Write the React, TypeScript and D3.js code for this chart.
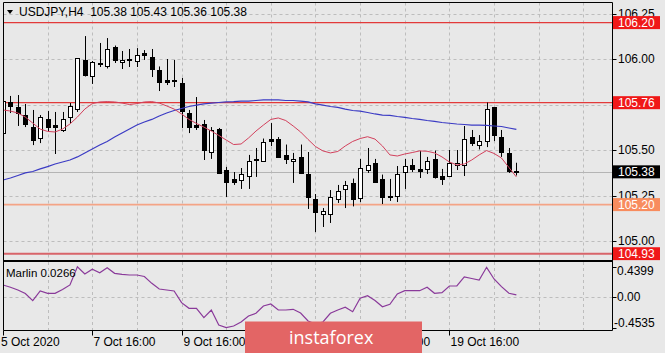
import * as d3 from 'd3';

const SYMBOL_TITLE = 'USDJPY,H4  105.38 105.43 105.36 105.38';
const MARLIN_TITLE = 'Marlin 0.0266';
const LAST_PRICE = 105.38;

const opens = [
  105.593, 105.764, 105.734, 105.692, 105.626, 105.566, 105.67, 105.64, 105.61, 105.681,
  105.725, 105.995, 105.907, 105.978, 105.962, 106.066, 105.984, 106.0, 105.989, 106.033,
  106.011, 105.937, 105.885, 105.885, 105.868, 105.703, 105.637, 105.643, 105.489, 105.618,
  105.39, 105.338, 105.335, 105.357, 105.445, 105.44, 105.558, 105.563, 105.473, 105.44,
  105.462, 105.368, 105.231, 105.148, 105.148, 105.231, 105.286, 105.319, 105.236, 105.39,
  105.429, 105.338, 105.247, 105.245, 105.379, 105.418, 105.393, 105.398, 105.448, 105.357,
  105.357, 105.42, 105.418, 105.571, 105.53, 105.552, 105.734, 105.574, 105.484, 105.383,
];
const highs = [
  105.808, 105.797, 105.802, 105.753, 105.72, 105.692, 105.714, 105.709, 105.709, 105.758,
  106.005, 106.126, 105.989, 106.088, 106.115, 106.074, 106.044, 106.055, 106.06, 106.049,
  106.055, 105.959, 106.0, 105.995, 105.896, 105.72, 105.791, 105.665, 105.626, 105.621,
  105.407, 105.379, 105.401, 105.473, 105.511, 105.563, 105.648, 105.571, 105.53, 105.484,
  105.53, 105.489, 105.258, 105.181, 105.28, 105.308, 105.33, 105.343, 105.451, 105.511,
  105.451, 105.365, 105.341, 105.412, 105.451, 105.451, 105.495, 105.462, 105.497, 105.396,
  105.5, 105.5, 105.632, 105.61, 105.582, 105.761, 105.736, 105.61, 105.511, 105.43,
];
const lows = [
  105.555, 105.703, 105.632, 105.626, 105.527, 105.538, 105.604, 105.478, 105.599, 105.648,
  105.709, 105.904, 105.863, 105.956, 105.948, 105.978, 105.945, 105.956, 105.956, 105.995,
  105.901, 105.824, 105.857, 105.846, 105.621, 105.593, 105.61, 105.445, 105.451, 105.368,
  105.242, 105.308, 105.286, 105.286, 105.352, 105.434, 105.522, 105.456, 105.423, 105.319,
  105.368, 105.176, 105.049, 105.077, 105.099, 105.209, 105.181, 105.19, 105.214, 105.374,
  105.319, 105.203, 105.22, 105.214, 105.286, 105.379, 105.346, 105.368, 105.343, 105.308,
  105.354, 105.39, 105.357, 105.522, 105.503, 105.516, 105.549, 105.462, 105.374, 105.36,
];
const closes = [
  105.77, 105.742, 105.703, 105.643, 105.555, 105.681, 105.626, 105.626, 105.67, 105.742,
  106.003, 105.912, 105.984, 105.973, 106.055, 105.995, 105.995, 105.997, 106.022, 106.022,
  105.945, 105.874, 105.876, 105.879, 105.714, 105.626, 105.626, 105.5, 105.61, 105.376,
  105.324, 105.324, 105.368, 105.44, 105.448, 105.544, 105.552, 105.462, 105.448, 105.451,
  105.374, 105.242, 105.159, 105.165, 105.242, 105.275, 105.305, 105.231, 105.401, 105.418,
  105.324, 105.242, 105.242, 105.368, 105.412, 105.398, 105.387, 105.44, 105.349, 105.343,
  105.426, 105.429, 105.563, 105.536, 105.547, 105.723, 105.582, 105.489, 105.387, 105.38,
];

// fast moving average (red) and slow moving average (blue), read per bar
const fastMa = [
  105.72, 105.714, 105.703, 105.681, 105.648, 105.615, 105.602, 105.599, 105.615, 105.643,
  105.681, 105.725, 105.755, 105.764, 105.766, 105.764, 105.758, 105.75, 105.755, 105.764,
  105.766, 105.758, 105.742, 105.725, 105.698, 105.668, 105.646, 105.626, 105.604, 105.58,
  105.555, 105.53, 105.533, 105.566, 105.604, 105.637, 105.668, 105.676, 105.662, 105.632,
  105.599, 105.558, 105.519, 105.495, 105.484, 105.492, 105.522, 105.547, 105.563, 105.573,
  105.56, 105.522, 105.473, 105.467, 105.478, 105.486, 105.495, 105.493, 105.484, 105.462,
  105.434, 105.418, 105.423, 105.445, 105.473, 105.497, 105.481, 105.456, 105.404, 105.352,
];
const slowMa = [
  105.335, 105.346, 105.36, 105.374, 105.382, 105.396, 105.409, 105.423, 105.434, 105.445,
  105.462, 105.484, 105.505, 105.527, 105.547, 105.571, 105.593, 105.615, 105.637, 105.654,
  105.668, 105.687, 105.703, 105.717, 105.728, 105.739, 105.747, 105.753, 105.758, 105.761,
  105.764, 105.766, 105.769, 105.769, 105.772, 105.775, 105.775, 105.775, 105.772, 105.772,
  105.769, 105.764, 105.753, 105.747, 105.739, 105.734, 105.725, 105.717, 105.714, 105.706,
  105.698, 105.692, 105.69, 105.684, 105.679, 105.673, 105.668, 105.662, 105.657, 105.651,
  105.647, 105.643, 105.64, 105.637, 105.637, 105.635, 105.632, 105.629, 105.621, 105.613,
];

const marlin = [
  0.172, 0.138, 0.098, 0.047, -0.059, 0.084, 0.05, 0.05, 0.106, 0.172,
  0.4399, 0.333, 0.402, 0.352, 0.425, 0.343, 0.328, 0.318, 0.318, 0.296,
  0.196, 0.113, 0.098, 0.084, -0.088, -0.17, -0.17, -0.308, -0.195, -0.415,
  -0.4535, -0.43, -0.371, -0.283, -0.243, -0.136, -0.107, -0.195, -0.195, -0.185,
  -0.239, -0.356, -0.4, -0.371, -0.243, -0.195, -0.155, -0.22, -0.023, 0.015,
  -0.056, -0.147, -0.111, 0.04, 0.088, 0.088, 0.088, 0.138, 0.05, 0.059,
  0.157, 0.157, 0.289, 0.267, 0.245, 0.431, 0.26, 0.147, 0.05, 0.0266,
];

const priceTicks = [106.25, 106.0, 105.75, 105.5, 105.25, 105.0];
const marlinTicks = [0.4399, 0, -0.4535];
const marlinTickLabels = ['0.4399', '0.00', '-0.4535'];

const timeTickBars = [0, 12, 24, 36, 48, 60];
const timeTickLabels = ['5 Oct 2020', '7 Oct 16:00', '9 Oct 16:00', '13 Oct 16:00', '15 Oct 16:00', '19 Oct 16:00'];

const resistanceHigh = 106.2;
const resistanceMid = 105.76;
const supportLevel = 105.2;
const supportLow = 104.93;

const W = 665;
const H = 353;
const LEFT = 3.5;
const RIGHT = 612.5;
const MAIN_TOP = 2.5;
const MAIN_BOTTOM = 261;
const SUB_TOP = 262;
const SUB_BOTTOM = 330.5;
const BG = '#e8e8e8';
const FONT = '"Liberation Sans", Arial, sans-serif';
const MARK = { x: 245, y: 321.5, w: 177, h: 33 };

export default function App() {
  const n = closes.length;
  const x = d3.scaleLinear().domain([0, n - 1]).range([3, 3 + (n - 1) * 7.44]);
  const y = d3.scaleLinear().domain([105, 106]).range([241, 59]);
  const ySub = d3.scaleLinear().domain([-0.4535, 0.4399]).range([327.6, 266.7]);

  const px = (i: number) => Math.round(x(i)) + 0.5;
  const gridBars = d3.range(6, 84, 6).filter((i) => x(i) < RIGHT - 2);

  const lineMain = (vals: number[]) =>
    d3.line<number>().x((_, i) => x(i)).y((d) => y(d))(vals) ?? '';
  const lineSub = d3.line<number>().x((_, i) => x(i)).y((d) => ySub(d))(marlin) ?? '';

  const levels = [resistanceHigh, resistanceMid, LAST_PRICE, supportLevel, supportLow];
  // a tick label that sits fully under a level label is not shown
  const visibleTicks = priceTicks.filter((p) => !levels.some((l) => Math.abs(y(p) - y(l)) < 4));
  // a time label fully covered by the watermark is not shown
  const visibleTimes = timeTickBars
    .map((b, k) => ({ b, k }))
    .filter(({ b }) => !(px(b) > MARK.x && px(b) + 66 < MARK.x + MARK.w));

  const levelLabel = (v: number, fill: string, text = v.toFixed(2)) => {
    const cy = y(v);
    return (
      <g key={`lbl-${v}`}>
        <rect x={613} y={cy - 6.5} width={47} height={13} fill={fill} />
        <text x={618} y={cy + 4.3} fontSize={12} fill="#ffffff" fontFamily={FONT}>
          {text}
        </text>
      </g>
    );
  };

  return (
    <svg width={W} height={H} style={{ position: 'absolute', left: 0, top: 0 }}>
      <defs>
        <clipPath id="mainClip">
          <rect x={LEFT} y={MAIN_TOP} width={RIGHT - LEFT} height={MAIN_BOTTOM - MAIN_TOP - 1} />
        </clipPath>
        <clipPath id="subClip">
          <rect x={LEFT} y={SUB_TOP} width={RIGHT - LEFT} height={SUB_BOTTOM - SUB_TOP} />
        </clipPath>
        <clipPath id="axisClip">
          <rect x={RIGHT} y={0} width={W - RIGHT} height={MAIN_BOTTOM - 0.5} />
        </clipPath>
      </defs>
      <rect width={W} height={H} fill={BG} />

      {/* grid */}
      <g stroke="#bdbdbd" strokeDasharray="3,3" strokeWidth={1}>
        {gridBars.map((i) => (
          <line key={`vg${i}`} x1={px(i)} x2={px(i)} y1={MAIN_TOP} y2={MAIN_BOTTOM} />
        ))}
        {gridBars.map((i) => (
          <line key={`vs${i}`} x1={px(i)} x2={px(i)} y1={SUB_TOP} y2={SUB_BOTTOM} />
        ))}
        {priceTicks.map((p) => (
          <line key={`hg${p}`} x1={LEFT} x2={RIGHT} y1={Math.round(y(p)) + 0.5} y2={Math.round(y(p)) + 0.5} />
        ))}
        <line x1={LEFT} x2={RIGHT} y1={Math.round(ySub(0)) + 0.5} y2={Math.round(ySub(0)) + 0.5} />
      </g>

      <g clipPath="url(#mainClip)">
        {/* bid line */}
        <line x1={LEFT} x2={RIGHT} y1={Math.round(y(LAST_PRICE)) + 0.5} y2={Math.round(y(LAST_PRICE)) + 0.5} stroke="#b4b4b4" />
        {/* horizontal levels */}
        <line x1={LEFT} x2={RIGHT} y1={y(resistanceHigh)} y2={y(resistanceHigh)} stroke="#e23a3a" strokeWidth={1.2} />
        <line x1={LEFT} x2={RIGHT} y1={y(resistanceMid)} y2={y(resistanceMid)} stroke="#e23a3a" strokeWidth={1.2} />
        <line x1={LEFT} x2={RIGHT} y1={y(supportLevel)} y2={y(supportLevel)} stroke="#f4a486" strokeWidth={1.6} />
        <line x1={LEFT} x2={RIGHT} y1={y(supportLow)} y2={y(supportLow)} stroke="#d8646a" strokeWidth={2} />

        {/* candles */}
        {closes.map((c, i) => {
          const o = opens[i];
          const cx = px(i);
          const top = Math.round(y(Math.max(o, c)));
          const bot = Math.round(y(Math.min(o, c)));
          const bull = c >= o;
          return (
            <g key={`c${i}`}>
              <line x1={cx} x2={cx} y1={y(highs[i])} y2={y(lows[i])} stroke="#000" strokeWidth={1} />
              <rect
                x={cx - 2}
                y={top + 0.5}
                width={4}
                height={Math.max(1, bot - top)}
                fill={bull ? '#ffffff' : '#000000'}
                stroke="#000"
                strokeWidth={1}
              />
            </g>
          );
        })}

        <path d={lineMain(slowMa)} fill="none" stroke="#3b3bc4" strokeWidth={1.2} />
        <path d={lineMain(fastMa)} fill="none" stroke="#d2405c" strokeWidth={1} />
      </g>

      {/* marlin */}
      <g clipPath="url(#subClip)">
        <path d={lineSub} fill="none" stroke="#8a3a9a" strokeWidth={1.2} />
      </g>

      {/* frames */}
      <g stroke="#000" fill="none">
        <line x1={LEFT} x2={LEFT} y1={MAIN_TOP} y2={SUB_BOTTOM} />
        <line x1={RIGHT} x2={RIGHT} y1={MAIN_TOP} y2={SUB_BOTTOM} />
        <line x1={LEFT} x2={RIGHT} y1={MAIN_TOP} y2={MAIN_TOP} />
        <line x1={LEFT} x2={RIGHT} y1={MAIN_BOTTOM} y2={MAIN_BOTTOM} strokeWidth={2} />
        <line x1={LEFT} x2={RIGHT} y1={SUB_BOTTOM} y2={SUB_BOTTOM} />
        {priceTicks.map((p) => (
          <line key={`pt${p}`} x1={RIGHT} x2={RIGHT + 4} y1={Math.round(y(p)) + 0.5} y2={Math.round(y(p)) + 0.5} />
        ))}
        {marlinTicks.map((v) => (
          <line key={`mt${v}`} x1={RIGHT} x2={RIGHT + 4} y1={Math.round(ySub(v)) + 0.5} y2={Math.round(ySub(v)) + 0.5} />
        ))}
        {timeTickBars.map((i) => (
          <line key={`tt${i}`} x1={px(i)} x2={px(i)} y1={SUB_BOTTOM} y2={SUB_BOTTOM + 5} />
        ))}
      </g>

      {/* price axis */}
      <g clipPath="url(#axisClip)">
        {visibleTicks.map((p) => (
          <text key={`pl${p}`} x={618} y={y(p) + 4.3} fontSize={12} fontFamily={FONT} fill="#000">
            {p.toFixed(2)}
          </text>
        ))}
        {levelLabel(resistanceHigh, '#f01818')}
        {levelLabel(resistanceMid, '#f01818')}
        {levelLabel(LAST_PRICE, '#000000')}
        {levelLabel(supportLevel, '#f88c5e')}
        {levelLabel(supportLow, '#f01818')}
      </g>

      {/* marlin axis */}
      {marlinTicks.map((v, k) => (
        <text
          key={`ml${v}`}
          x={k === 2 ? 614 : 617}
          y={k === 0 ? ySub(v) + 8.6 : k === 2 ? ySub(v) - 0.3 : ySub(v) + 4.3}
          fontSize={12}
          fontFamily={FONT}
          fill="#000"
        >
          {marlinTickLabels[k]}
        </text>
      ))}

      {/* time axis */}
      {visibleTimes.map(({ b, k }) => (
        <text key={`tl${b}`} x={k === 0 ? 1 : px(b) + 1} y={346} fontSize={12} fontFamily={FONT} fill="#000">
          {timeTickLabels[k]}
        </text>
      ))}

      {/* titles */}
      <path d="M7,10 L13,10 L10,14 Z" fill="#000" />
      <text x={19} y={16} fontSize={12} fontFamily={FONT} fill="#000" xmlSpace="preserve">
        {SYMBOL_TITLE}
      </text>
      <text x={6} y={277} fontSize={11.5} fontFamily={FONT} fill="#000">
        {MARLIN_TITLE}
      </text>

      {/* watermark */}
      <rect x={MARK.x} y={MARK.y} width={MARK.w} height={MARK.h} fill="#e36565" />
      <text x={289} y={344} fontSize={18} fontFamily='"Open Sans", sans-serif' fill="#ffffff">
        instaforex
      </text>
    </svg>
  );
}
